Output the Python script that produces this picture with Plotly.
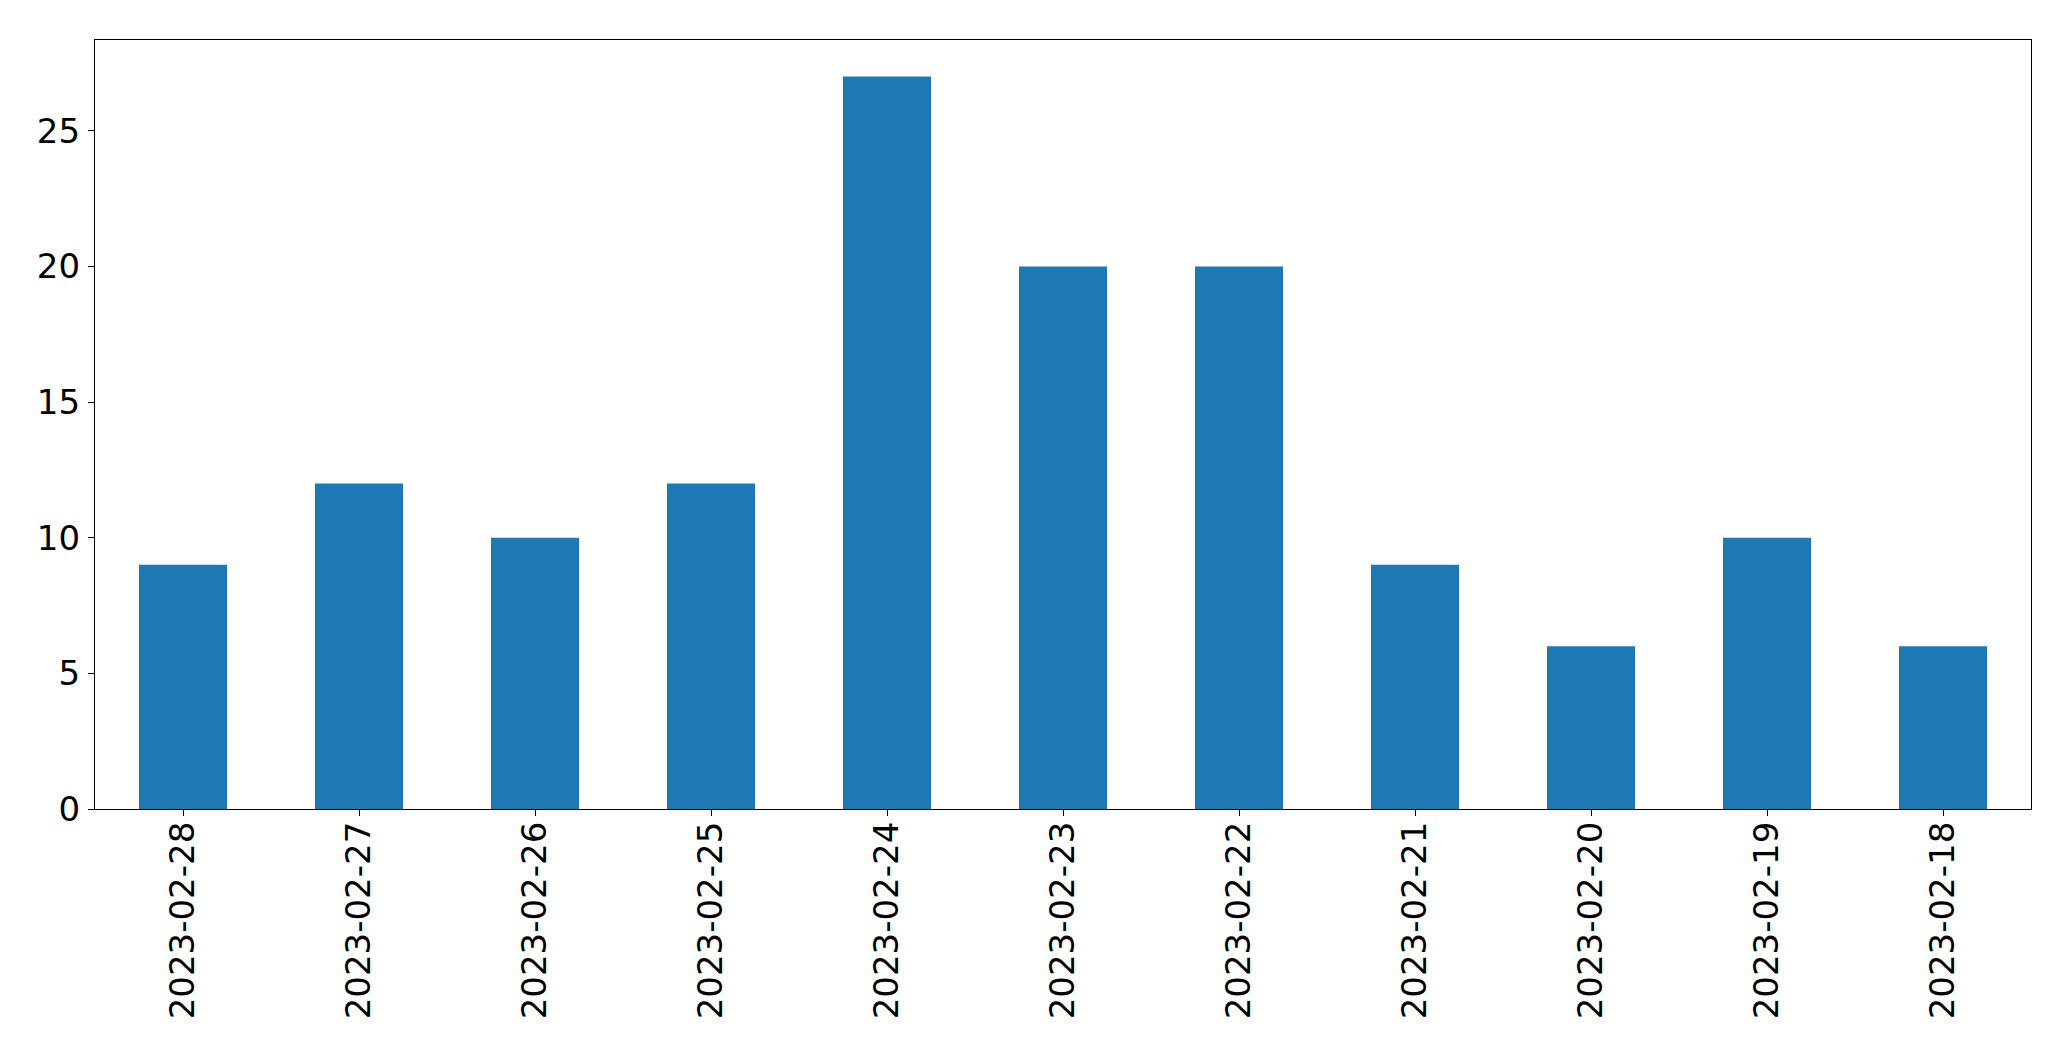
import plotly.graph_objects as go

dates = ["2023-02-28", "2023-02-27", "2023-02-26", "2023-02-25", "2023-02-24",
         "2023-02-23", "2023-02-22", "2023-02-21", "2023-02-20", "2023-02-19", "2023-02-18"]
counts = [9, 12, 10, 12, 27, 20, 20, 9, 6, 10, 6]
y_ticks = [0, 5, 10, 15, 20, 25]

fig = go.Figure(go.Bar(x=dates, y=counts, marker_color="#1f77b4",
                       marker_line_width=0, width=0.5))

font = dict(family="DejaVu Sans", size=34, color="black")
fig.update_layout(
    width=2071, height=1061,
    margin=dict(l=94.5, r=39.5, t=39.5, b=252, pad=0),
    plot_bgcolor="white", paper_bgcolor="white",
    showlegend=False,
    font=font,
)
fig.update_xaxes(type="category", range=[-0.5, len(dates) - 0.5],
                 tickangle=-90, ticks="outside", ticklen=6, tickcolor="black",
                 showline=True, linecolor="black", linewidth=1.3, mirror=True,
                 showgrid=False, tickfont=font, ticklabelstandoff=-8)
fig.update_yaxes(range=[0, max(counts) * 1.05], tickvals=y_ticks,
                 ticks="outside", ticklen=6, tickcolor="black",
                 showline=True, linecolor="black", linewidth=1.3, mirror=True,
                 showgrid=False, zeroline=False, tickfont=font, ticklabelstandoff=1)

fig.write_html("out.html", config={"displayModeBar": False},
               post_script="document.body.style.margin='0';document.body.style.overflow='hidden';")
